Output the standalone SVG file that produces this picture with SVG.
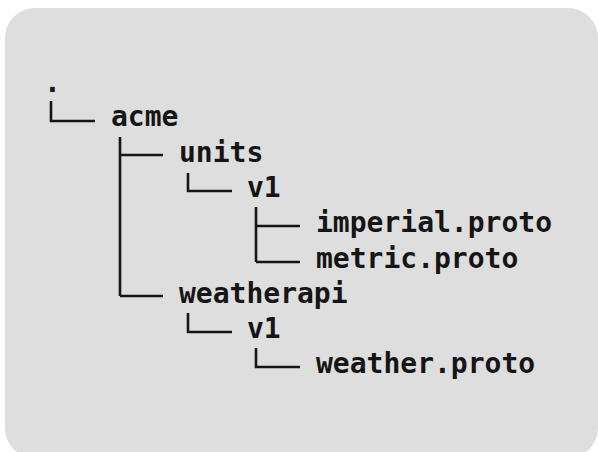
<svg xmlns="http://www.w3.org/2000/svg" width="598" height="452" viewBox="0 0 598 452">
  <style>
    .panel { fill: #dedede; }
    .label { font-family: "DejaVu Sans Mono", "Liberation Mono", monospace; font-size: 28px; font-weight: bold; fill: #151515; }
    .branch { fill: none; stroke: #151515; stroke-width: 2.6; stroke-linecap: butt; stroke-linejoin: miter; }
  </style>
  <rect width="598" height="452" fill="#ffffff"/>
  <rect class="panel" x="5" y="8" width="593" height="450" rx="30" ry="30"/>

  <!-- tree branches -->
  <g id="connectors" class="branch">
    <path d="M51 101 V121 H95"/>
    <path d="M120 137 V296 M120 155 H163 M120 296 H163"/>
    <path d="M188 173 V191 H232"/>
    <path d="M256 207 V262 M256 226 H300 M256 262 H300"/>
    <path d="M188 313 V332 H232"/>
    <path d="M256 348 V367 H300"/>
  </g>

  <g id="root"><text class="label" x="44" y="92">.</text></g>
  <g id="acme"><text class="label" x="111" y="126">acme</text></g>
  <g id="units"><text class="label" x="179" y="162">units</text></g>
  <g id="units-v1"><text class="label" x="247" y="197">v1</text></g>
  <g id="imperial-proto"><text class="label" x="316" y="232">imperial.proto</text></g>
  <g id="metric-proto"><text class="label" x="316" y="268">metric.proto</text></g>
  <g id="weatherapi"><text class="label" x="179" y="303">weatherapi</text></g>
  <g id="weatherapi-v1"><text class="label" x="247" y="338">v1</text></g>
  <g id="weather-proto"><text class="label" x="316" y="373">weather.proto</text></g>
</svg>
